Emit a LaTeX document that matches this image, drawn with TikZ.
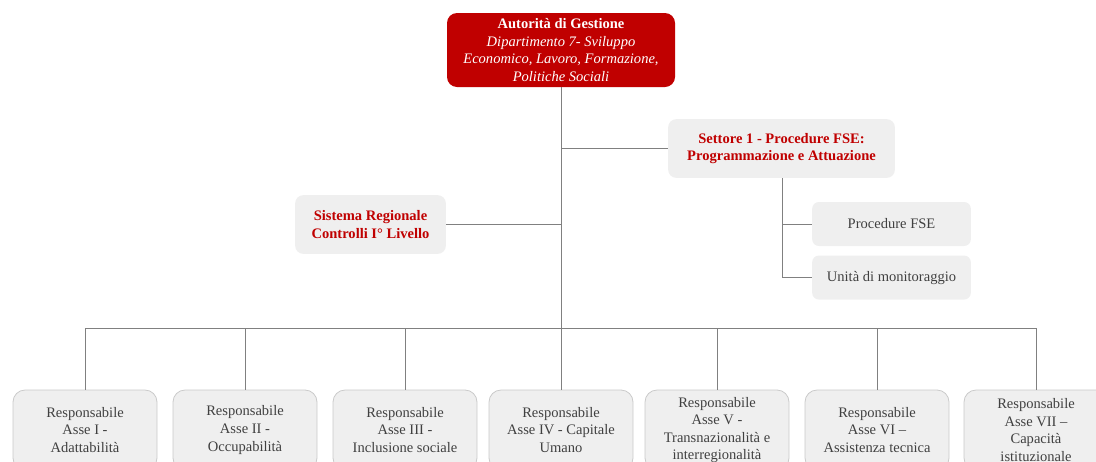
\documentclass[tikz,border=0pt]{standalone}
\usepackage{fontspec}
\setmainfont{Liberation Serif}
\usetikzlibrary{positioning}

\definecolor{agred}{HTML}{C00000}
\definecolor{boxgray}{HTML}{EFEFEF}
\definecolor{linegray}{HTML}{808080}
\definecolor{txtgray}{HTML}{404040}
\definecolor{rimgray}{HTML}{CACACA}

\begin{document}
\begin{tikzpicture}[
	x=0.75pt, y=-0.75pt,
	node distance=6.75pt,
	every node/.style={font=\fontsize{10.9}{13.2}\selectfont, align=center},
	head/.style={rectangle, rounded corners=7.5pt, fill=agred, text=white, minimum width=171pt, minimum height=55.5pt, inner sep=1pt},
	office/.style={rectangle, rounded corners=6pt, fill=boxgray, text=agred, font=\fontsize{10.9}{13.2}\selectfont\bfseries, minimum height=44pt},
	unit/.style={rectangle, rounded corners=5pt, fill=boxgray, text=txtgray, minimum width=119pt, minimum height=33pt},
	axis/.style={rectangle, rounded corners=9pt, fill=boxgray, draw=rimgray, line width=0.6pt, text=txtgray, minimum width=108pt, minimum height=60pt, inner sep=1pt},
	link/.style={draw=linegray, line width=0.75pt}
]
	\useasboundingbox (0,0) rectangle (1096,461);

	\node[head] (ag) at (561,50) {\textbf{Autorità di Gestione}\\\textit{Dipartimento 7- Sviluppo}\\\textit{Economico, Lavoro, Formazione,}\\\textit{Politiche Sociali}};
	\node[office, minimum width=170pt] (set) at (781.5,148.5) {Settore 1 - Procedure FSE:\\Programmazione e Attuazione};
	\node[office, minimum width=113pt] (src) at (370.5,224.5) {Sistema Regionale\\Controlli I° Livello};
	\node[unit] (pfse) at (891.5,224) {Procedure FSE};
	\node[unit, below=of pfse] (umon) {Unità di monitoraggio};

	% responsabili di asse
	\node[axis] (a1) at (85,430) {Responsabile\\Asse I -\\Adattabilità};
	\node[axis] (a2) at (245,430) {Responsabile\\Asse II -\\Occupabilità};
	\node[axis] (a3) at (405,430) {Responsabile\\Asse III -\\Inclusione sociale};
	\node[axis] (a4) at (561,430) {Responsabile\\Asse IV - Capitale\\Umano};
	\node[axis] (a5) at (717,430) {Responsabile\\Asse V -\\Transnazionalità e\\interregionalità};
	\node[axis] (a6) at (877,430) {Responsabile\\Asse VI --\\Assistenza tecnica};
	\node[axis] (a7) at (1036,430) {Responsabile\\Asse VII --\\Capacità\\istituzionale};

	\coordinate (bus) at (561,328);
	\coordinate (spine) at (782,0);

	\draw[link] (ag.south) -- (bus);
	\draw[link] (ag.south |- set.west) -- (set.west);
	\draw[link] (ag.south |- src.east) -- (src.east);
	\draw[link] (spine |- set.south) -- (spine |- umon.west) -- (umon.west);
	\draw[link] (spine |- pfse.west) -- (pfse.west);
	\draw[link] (a1.north) -- (a1.north |- bus) -- (a7.north |- bus) -- (a7.north);
	\foreach \n in {a2,a3,a4,a5,a6}
		\draw[link] (\n.north) -- (\n.north |- bus);
\end{tikzpicture}
\end{document}
